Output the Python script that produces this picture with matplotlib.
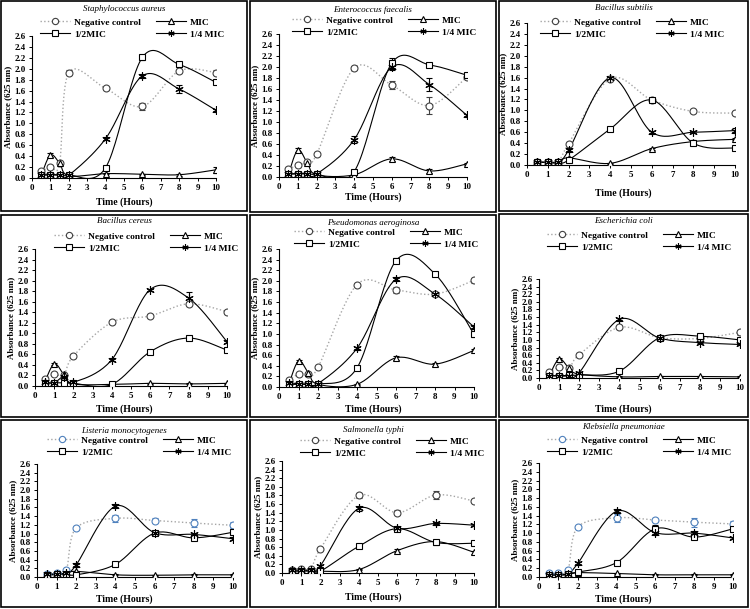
import numpy as np
import matplotlib
matplotlib.use("Agg")
import matplotlib.pyplot as plt
from matplotlib.patches import Rectangle
from matplotlib.lines import Line2D

plt.rcParams['font.family'] = ['Liberation Serif', 'DejaVu Serif']

hours = [0.5, 1, 1.5, 2, 4, 6, 8, 10]
series_labels = ["Negative control", "MIC", "1/2MIC", "1/4 MIC"]
x_ticks = [0, 1, 2, 3, 4, 5, 6, 7, 8, 9, 10]
y_ticks = [0.0, 0.2, 0.4, 0.6, 0.8, 1.0, 1.2, 1.4, 1.6, 1.8, 2.0, 2.2, 2.4, 2.6]

titles = ["Staphylococcus aureus", "Enterococcus faecalis", "Bacillus subtilis",
          "Bacillus cereus", "Pseudomonas aeroginosa", "Escherichia coli",
          "Listeria monocytogenes", "Salmonella typhi", "Klebsiella pneumoniae"]

# Staphylococcus aureus
sa_neg = [0.12, 0.21, 0.27, 1.93, 1.64, 1.31, 1.96, 1.93]
sa_mic = [0.05, 0.42, 0.27, 0.04, 0.08, 0.07, 0.06, 0.15]
sa_half = [0.05, 0.06, 0.06, 0.05, 0.19, 2.21, 2.08, 1.75]
sa_quarter = [0.06, 0.06, 0.05, 0.05, 0.72, 1.87, 1.63, 1.24]
sa_neg_err = [0.02, 0.03, 0.03, 0.05, 0.03, 0.07, 0.03, 0.04]
sa_mic_err = [0.01, 0.03, 0.02, 0.01, 0.01, 0.01, 0.02, 0.05]
sa_half_err = [0.01, 0.01, 0.01, 0.01, 0.03, 0.05, 0.05, 0.03]
sa_quarter_err = [0.01, 0.01, 0.01, 0.01, 0.03, 0.03, 0.08, 0.03]

# Enterococcus faecalis
ef_neg = [0.15, 0.21, 0.27, 0.41, 1.98, 1.67, 1.30, 1.82]
ef_mic = [0.05, 0.49, 0.26, 0.04, 0.04, 0.33, 0.11, 0.24]
ef_half = [0.06, 0.06, 0.06, 0.05, 0.10, 2.07, 2.04, 1.85]
ef_quarter = [0.05, 0.06, 0.06, 0.05, 0.68, 2.00, 1.68, 1.12]
ef_neg_err = [0.02, 0.03, 0.03, 0.03, 0.03, 0.07, 0.15, 0.03]
ef_mic_err = [0.01, 0.03, 0.02, 0.01, 0.01, 0.03, 0.03, 0.02]
ef_half_err = [0.01, 0.01, 0.01, 0.01, 0.03, 0.10, 0.02, 0.02]
ef_quarter_err = [0.01, 0.01, 0.01, 0.01, 0.06, 0.05, 0.12, 0.02]

# Bacillus subtilis
bs_neg = [0.06, 0.06, 0.06, 0.39, 1.58, 1.19, 0.98, 0.95]
bs_mic = [0.05, 0.05, 0.05, 0.13, 0.03, 0.30, 0.43, 0.47]
bs_half = [0.05, 0.05, 0.05, 0.09, 0.66, 1.19, 0.40, 0.31]
bs_quarter = [0.05, 0.05, 0.05, 0.27, 1.60, 0.60, 0.60, 0.63]
bs_neg_err = [0.01, 0.01, 0.01, 0.03, 0.03, 0.03, 0.03, 0.03]
bs_mic_err = [0.01, 0.01, 0.01, 0.01, 0.01, 0.02, 0.02, 0.02]
bs_half_err = [0.01, 0.01, 0.01, 0.01, 0.03, 0.04, 0.02, 0.02]
bs_quarter_err = [0.01, 0.01, 0.01, 0.04, 0.03, 0.03, 0.02, 0.05]

# Bacillus cereus
bc_neg = [0.13, 0.23, 0.20, 0.57, 1.21, 1.33, 1.56, 1.41]
bc_mic = [0.07, 0.42, 0.22, 0.04, 0.03, 0.05, 0.04, 0.05]
bc_half = [0.05, 0.06, 0.06, 0.05, 0.03, 0.65, 0.91, 0.68]
bc_quarter = [0.08, 0.06, 0.18, 0.07, 0.50, 1.83, 1.67, 0.84]
bc_neg_err = [0.02, 0.03, 0.02, 0.04, 0.03, 0.03, 0.04, 0.04]
bc_mic_err = [0.01, 0.02, 0.02, 0.01, 0.01, 0.01, 0.01, 0.01]
bc_half_err = [0.01, 0.01, 0.01, 0.01, 0.01, 0.03, 0.03, 0.04]
bc_quarter_err = [0.01, 0.01, 0.02, 0.01, 0.03, 0.02, 0.12, 0.03]

# Pseudomonas aeroginosa
pa_neg = [0.13, 0.24, 0.25, 0.37, 1.93, 1.83, 1.75, 2.01]
pa_mic = [0.05, 0.49, 0.27, 0.05, 0.05, 0.55, 0.43, 0.69]
pa_half = [0.05, 0.05, 0.05, 0.05, 0.36, 2.38, 2.13, 0.99]
pa_quarter = [0.08, 0.06, 0.06, 0.06, 0.73, 2.03, 1.75, 1.13]
pa_neg_err = [0.02, 0.02, 0.02, 0.02, 0.03, 0.06, 0.03, 0.05]
pa_mic_err = [0.01, 0.02, 0.02, 0.01, 0.01, 0.04, 0.03, 0.02]
pa_half_err = [0.01, 0.01, 0.01, 0.01, 0.03, 0.05, 0.03, 0.05]
pa_quarter_err = [0.01, 0.01, 0.01, 0.01, 0.03, 0.04, 0.04, 0.03]

# Escherichia coli
ec_neg = [0.15, 0.28, 0.27, 0.61, 1.33, 1.06, 1.04, 1.20]
ec_mic = [0.05, 0.50, 0.25, 0.10, 0.03, 0.04, 0.04, 0.03]
ec_half = [0.06, 0.06, 0.07, 0.08, 0.18, 1.06, 1.10, 1.00]
ec_quarter = [0.06, 0.05, 0.06, 0.14, 1.54, 1.05, 0.93, 0.88]
ec_neg_err = [0.02, 0.04, 0.03, 0.04, 0.04, 0.04, 0.03, 0.06]
ec_mic_err = [0.01, 0.02, 0.02, 0.01, 0.01, 0.01, 0.01, 0.01]
ec_half_err = [0.01, 0.01, 0.01, 0.01, 0.03, 0.03, 0.03, 0.03]
ec_quarter_err = [0.01, 0.01, 0.01, 0.02, 0.04, 0.03, 0.02, 0.02]

# Listeria monocytogenes
lm_neg = [0.08, 0.10, 0.17, 1.13, 1.35, 1.30, 1.24, 1.19]
lm_mic = [0.05, 0.05, 0.08, 0.13, 0.05, 0.04, 0.05, 0.05]
lm_half = [0.05, 0.06, 0.08, 0.05, 0.29, 1.01, 0.90, 1.03]
lm_quarter = [0.07, 0.07, 0.10, 0.28, 1.63, 1.02, 0.98, 0.88]
lm_neg_err = [0.01, 0.01, 0.02, 0.04, 0.08, 0.05, 0.10, 0.07]
lm_mic_err = [0.01, 0.01, 0.01, 0.01, 0.01, 0.01, 0.01, 0.01]
lm_half_err = [0.01, 0.01, 0.01, 0.01, 0.03, 0.04, 0.03, 0.04]
lm_quarter_err = [0.01, 0.01, 0.01, 0.04, 0.04, 0.04, 0.04, 0.03]

# Salmonella typhi
st_neg = [0.08, 0.09, 0.09, 0.56, 1.80, 1.40, 1.81, 1.67]
st_mic = [0.05, 0.05, 0.05, 0.04, 0.08, 0.52, 0.73, 0.48]
st_half = [0.04, 0.05, 0.05, 0.04, 0.62, 1.03, 0.71, 0.69]
st_quarter = [0.06, 0.07, 0.07, 0.17, 1.50, 1.04, 1.15, 1.11]
st_neg_err = [0.01, 0.01, 0.01, 0.03, 0.06, 0.06, 0.10, 0.03]
st_mic_err = [0.01, 0.01, 0.01, 0.01, 0.01, 0.03, 0.03, 0.04]
st_half_err = [0.01, 0.01, 0.01, 0.01, 0.03, 0.03, 0.03, 0.03]
st_quarter_err = [0.01, 0.01, 0.01, 0.02, 0.06, 0.03, 0.03, 0.03]

# Klebsiella pneumoniae
kp_neg = [0.08, 0.10, 0.17, 1.14, 1.35, 1.30, 1.25, 1.21]
kp_mic = [0.05, 0.05, 0.07, 0.10, 0.08, 0.05, 0.05, 0.05]
kp_half = [0.04, 0.05, 0.06, 0.11, 0.33, 1.10, 0.91, 1.10]
kp_quarter = [0.05, 0.05, 0.07, 0.31, 1.50, 1.01, 1.00, 0.89]
kp_neg_err = [0.01, 0.01, 0.02, 0.03, 0.09, 0.05, 0.10, 0.06]
kp_mic_err = [0.01, 0.01, 0.01, 0.01, 0.01, 0.01, 0.01, 0.01]
kp_half_err = [0.01, 0.01, 0.01, 0.02, 0.03, 0.08, 0.05, 0.07]
kp_quarter_err = [0.01, 0.01, 0.01, 0.04, 0.04, 0.05, 0.04, 0.03]

panel_values = [
    (sa_neg, sa_mic, sa_half, sa_quarter), (ef_neg, ef_mic, ef_half, ef_quarter),
    (bs_neg, bs_mic, bs_half, bs_quarter), (bc_neg, bc_mic, bc_half, bc_quarter),
    (pa_neg, pa_mic, pa_half, pa_quarter), (ec_neg, ec_mic, ec_half, ec_quarter),
    (lm_neg, lm_mic, lm_half, lm_quarter), (st_neg, st_mic, st_half, st_quarter),
    (kp_neg, kp_mic, kp_half, kp_quarter)]
panel_errors = [
    (sa_neg_err, sa_mic_err, sa_half_err, sa_quarter_err),
    (ef_neg_err, ef_mic_err, ef_half_err, ef_quarter_err),
    (bs_neg_err, bs_mic_err, bs_half_err, bs_quarter_err),
    (bc_neg_err, bc_mic_err, bc_half_err, bc_quarter_err),
    (pa_neg_err, pa_mic_err, pa_half_err, pa_quarter_err),
    (ec_neg_err, ec_mic_err, ec_half_err, ec_quarter_err),
    (lm_neg_err, lm_mic_err, lm_half_err, lm_quarter_err),
    (st_neg_err, st_mic_err, st_half_err, st_quarter_err),
    (kp_neg_err, kp_mic_err, kp_half_err, kp_quarter_err)]

W, H = 750, 609
fig = plt.figure(figsize=(W / 100, H / 100), dpi=100)

# layout in pixels: axes (x0, x10, y0, y26), legend (left, top), title y, xlabel y
axes_px = [(32, 216, 178, 36), (279, 467, 177, 34), (527, 735, 165, 23),
           (35, 227, 386, 249), (279, 474, 387, 249), (539, 740, 378, 279),
           (37, 233, 577, 464), (282, 474, 573, 461), (539, 733, 577, 463)]
legend_px = [(40, 18), (292, 16), (540, 18), (54, 232), (294, 228), (547, 231),
             (47, 436), (300, 437), (547, 436)]
title_y = [9, 10, 8, 221, 223, 221, 431, 430, 427]
xlabel_y = [202, 197, 193, 409, 409, 409, 599, 597, 599]
boxes_px = [(1, 1, 247, 211), (250, 1, 496, 212), (499, 1, 748, 211),
            (1, 215, 247, 417), (250, 215, 496, 417), (499, 214, 748, 417),
            (1, 420, 247, 607), (250, 420, 496, 607), (499, 420, 748, 607)]


def smooth(x, y, n=24):
    pts = np.column_stack([x, y]).astype(float)
    P = np.vstack([pts[0], pts, pts[-1]])
    t = np.linspace(0, 1, n)[:, None]
    out = []
    for i in range(1, len(P) - 2):
        p0, p1, p2, p3 = P[i - 1], P[i], P[i + 1], P[i + 2]
        c = 0.5 * (2 * p1 + (-p0 + p2) * t + (2 * p0 - 5 * p1 + 4 * p2 - p3) * t ** 2
                   + (-p0 + 3 * p1 - 3 * p2 + p3) * t ** 3)
        out.append(c)
    s = np.vstack(out)
    return s[:, 0], s[:, 1]


markers = ['o', '^', 's', (6, 2, 0)]
for k in range(9):
    x0, x10, y0, y26 = axes_px[k]
    ax = fig.add_axes([x0 / W, 1 - y0 / H, (x10 - x0) / W, (y0 - y26) / H])
    neg_col = '#4F81BD' if k in (6, 8) else '#404040'
    handles = []
    for j in range(4):
        vals = panel_values[k][j]
        errs = panel_errors[k][j]
        sx, sy = smooth(hours, vals)
        if j == 0:
            lc, ls, lw, mc = '#A6A6A6', ':', 1.0, neg_col
        else:
            lc, ls, lw, mc = 'black', '-', 0.8, 'black'
        ax.plot(sx, sy, color=lc, ls=ls, lw=lw, zorder=2)
        ms = 5 if j != 3 else 6
        ax.errorbar(hours, vals, yerr=errs, fmt='none', ecolor=mc, elinewidth=0.8,
                    capsize=2.2, capthick=0.8, zorder=3)
        ax.plot(hours, vals, ls='none', marker=markers[j], ms=ms, mfc='white',
                mec=mc, mew=0.8, zorder=4)
        handles.append(Line2D([0], [0], color=lc, ls=ls, lw=lw, marker=markers[j],
                              ms=4.5, mfc='white', mec=mc, mew=0.8))
    ax.set_xlim(0, 10)
    ax.set_ylim(0, 2.6)
    ax.set_xticks(x_ticks)
    ax.set_yticks(y_ticks)
    ax.set_yticklabels([f"{v:.1f}" for v in y_ticks])
    for s in ('top', 'right'):
        ax.spines[s].set_visible(False)
    for s in ('left', 'bottom'):
        ax.spines[s].set_linewidth(0.8)
    ax.tick_params(labelsize=6.5, length=2.5, width=0.7, pad=2)
    for lab in ax.get_xticklabels() + ax.get_yticklabels():
        lab.set_fontweight('bold')
    ax.set_ylabel("Absorbance (625 nm)", fontsize=6.5, fontweight='bold', labelpad=2)
    ax.patch.set_alpha(0)

    bx0, by0, bx1, by1 = boxes_px[k]
    cx = (bx0 + bx1) / 2
    fig.text(cx / W, 1 - title_y[k] / H, titles[k], fontsize=6.5, style='italic',
             ha='center', va='center')
    fig.text(cx / W, 1 - xlabel_y[k] / H, "Time (Hours)", fontsize=7, fontweight='bold',
             ha='center', va='center')
    fig.add_artist(Rectangle((bx0 / W, 1 - by1 / H), (bx1 - bx0) / W, (by1 - by0) / H,
                             transform=fig.transFigure, fill=False, lw=1.2, ec='black'))
    lx, ly = legend_px[k]
    order = [0, 2, 1, 3]
    fig.legend([handles[i] for i in order], [series_labels[i] for i in order],
               loc='upper left', bbox_to_anchor=(lx / W, 1 - ly / H), ncol=2,
               frameon=False, prop={'weight': 'bold', 'size': 6.8}, handlelength=3.2,
               handletextpad=0.4, columnspacing=1.6, borderpad=0, borderaxespad=0,
               labelspacing=0.35)

fig.savefig("out.png", dpi=100)
